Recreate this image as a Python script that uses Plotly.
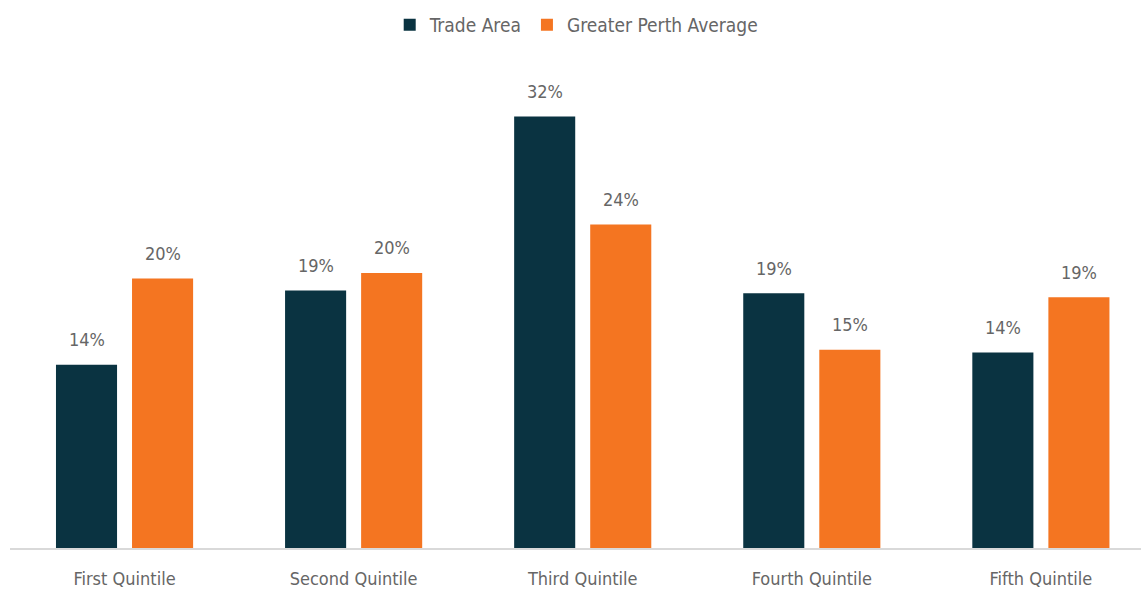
import plotly.graph_objects as go

categories = ["First Quintile", "Second Quintile", "Third Quintile", "Fourth Quintile", "Fifth Quintile"]
trade_area = [13.6, 19.1, 32.0, 18.9, 14.5]
perth_avg = [20.0, 20.4, 24.0, 14.7, 18.6]
trade_labels = ["14%", "19%", "32%", "19%", "14%"]
perth_labels = ["20%", "20%", "24%", "15%", "19%"]

FONT = "DejaVu Sans Condensed, Liberation Sans Narrow, sans-serif"
GREY = "#666666"

fig = go.Figure()
fig.add_trace(go.Bar(
    x=categories, y=trade_area, name="Trade Area",
    marker=dict(color="#0a3341", line=dict(width=0)),
))
fig.add_trace(go.Bar(
    x=categories, y=perth_avg, name="Greater Perth Average",
    marker=dict(color="#f47521", line=dict(width=0)),
))

annotations = []
for series, labels, shift in ((trade_area, trade_labels, -38), (perth_avg, perth_labels, 38)):
    for c, v, t in zip(categories, series, labels):
        annotations.append(dict(x=c, y=v, text=t, showarrow=False, xshift=shift,
                                yshift=25, yanchor="middle",
                                font=dict(size=18, color=GREY, family=FONT)))

fig.update_layout(
    width=1141, height=590,
    margin=dict(l=10, r=0, t=60, b=42),
    paper_bgcolor="white", plot_bgcolor="white",
    barmode="group", bargap=0.336, bargroupgap=0.197,
    font=dict(family=FONT, size=18, color=GREY),
    showlegend=True,
    annotations=annotations,
    legend=dict(orientation="h", x=0.505, xanchor="center", xref="container",
                y=1 - 25 / 590, yanchor="middle", yref="container",
                font=dict(size=19, color=GREY, family=FONT),
                traceorder="normal"),
    xaxis=dict(range=[-0.5, 4.437], showline=True, linecolor="#d9d9d9", linewidth=2,
               ticks="", ticklabelstandoff=13,
               tickfont=dict(size=18, color=GREY, family=FONT),
               showgrid=False, zeroline=False),
    yaxis=dict(range=[0, 36.2], visible=False, showgrid=False, zeroline=False),
)

fig.write_html("out.html", config={"displayModeBar": False},
               post_script="document.body.style.margin='0';document.body.style.overflow='hidden';")
